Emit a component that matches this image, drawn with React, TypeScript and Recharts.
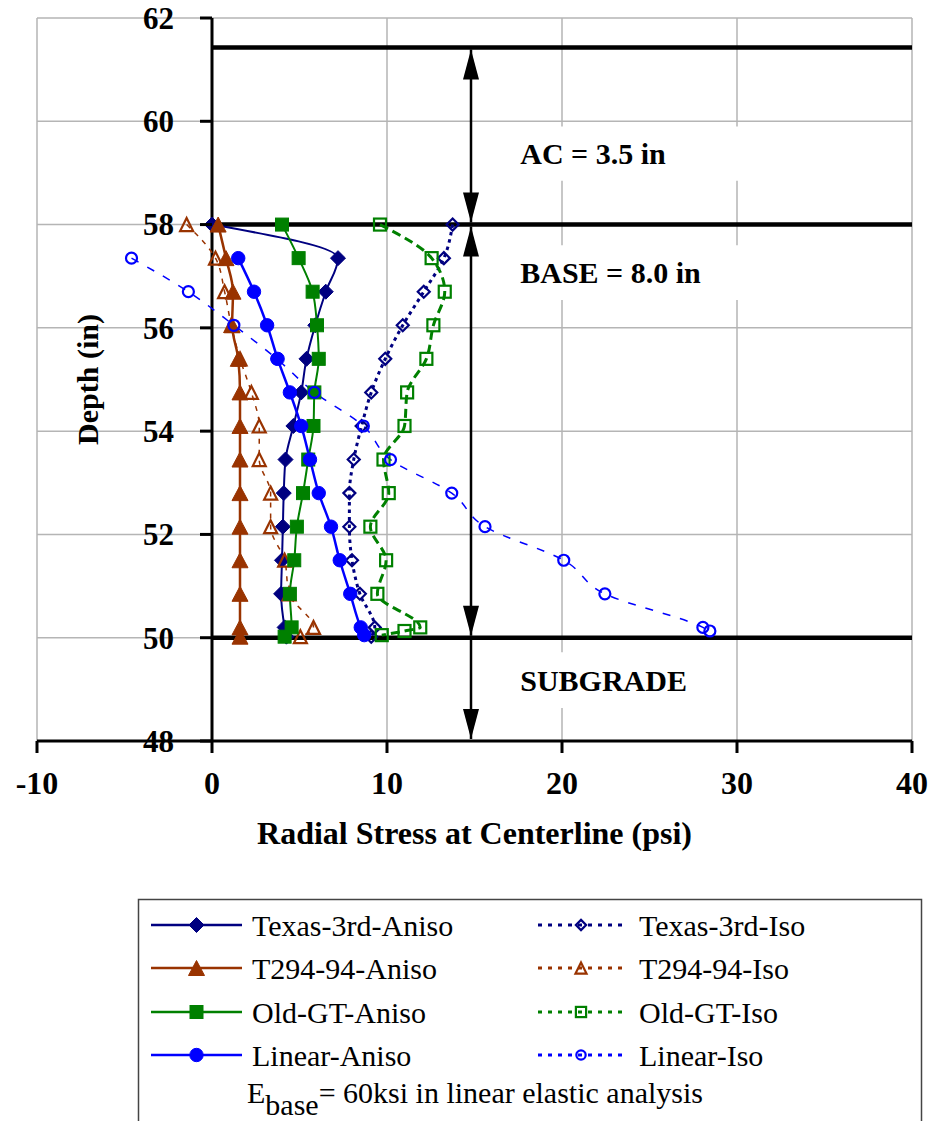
import React from 'react';
import { LineChart, Line, XAxis, YAxis, CartesianGrid, ReferenceLine, ReferenceArea } from 'recharts';

const WIDTH = 928;
const HEIGHT = 1121;
const PLOT = { left: 37, top: 18, right: 912, bottom: 741 };
const X_AXIS_H = 60;
const Y_AXIS_W = 1;
const X_DOMAIN: [number, number] = [-10, 40];
const Y_DOMAIN: [number, number] = [48, 62];
const xTicks = [-10, 0, 10, 20, 30, 40];
const yTicks = [48, 50, 52, 54, 56, 58, 60, 62];

const FONT = '"Liberation Serif", "Times New Roman", serif';
const NAVY = '#000080';
const BROWN = '#993300';
const GREEN = '#008000';
const BLUE = '#0000ff';

// depth levels (in)
const depthsFull = [58, 57.35, 56.7, 56.05, 55.4, 54.75, 54.1, 53.45, 52.8, 52.15, 51.5, 50.85, 50.2, 50.02];
const depthsLinearAniso = [57.35, 56.7, 56.05, 55.4, 54.75, 54.1, 53.45, 52.8, 52.15, 51.5, 50.85, 50.2, 50.05];
const depthsLinearIso = [57.35, 56.7, 56.05, 55.4, 54.75, 54.1, 53.45, 52.8, 52.15, 51.5, 50.85, 50.2, 50.13];
const depthsOldGtIso = [58, 57.35, 56.7, 56.05, 55.4, 54.75, 54.1, 53.45, 52.8, 52.15, 51.5, 50.85, 50.2, 50.13, 50.05];

// radial stress at centerline (psi)
const texasAniso = [0, 7.2, 6.5, 5.9, 5.4, 5.1, 4.65, 4.2, 4.1, 4.05, 4.0, 3.95, 4.15, 4.25];
const texasIso = [13.75, 13.25, 12.1, 10.9, 9.9, 9.1, 8.55, 8.1, 7.85, 7.85, 8.0, 8.45, 9.3, 9.1];
const t294Aniso = [0.35, 0.8, 1.2, 1.15, 1.5, 1.6, 1.6, 1.6, 1.6, 1.6, 1.6, 1.6, 1.6, 1.6];
const t294Iso = [-1.45, 0.2, 0.72, 1.1, 1.6, 2.25, 2.7, 2.7, 3.35, 3.35, 4.15, 4.4, 5.8, 5.05];
const oldGtAniso = [4.0, 4.95, 5.75, 6.0, 6.1, 5.85, 5.8, 5.5, 5.2, 4.85, 4.7, 4.45, 4.55, 4.15];
const oldGtIso = [9.6, 12.55, 13.3, 12.65, 12.25, 11.15, 11.0, 9.8, 10.1, 9.05, 9.95, 9.45, 11.9, 11.0, 9.7];
const linearAniso = [1.5, 2.4, 3.15, 3.75, 4.45, 5.1, 5.6, 6.1, 6.8, 7.3, 7.9, 8.5, 8.7];
const linearIso = [-4.6, -1.35, 1.25, 3.7, 5.85, 8.65, 10.2, 13.7, 15.6, 20.1, 22.45, 28.05, 28.45];

type Kind = 'diamond' | 'triangle' | 'square' | 'circle';

interface Series {
  name: string;
  color: string;
  depths: number[];
  values: number[];
  kind: Kind;
  filled: boolean;
  width: number;
  dash?: string;
  legendDash?: string;
}

// drawing order follows the legend, row by row
const series: Series[] = [
  { name: 'Texas-3rd-Aniso', color: NAVY, depths: depthsFull, values: texasAniso, kind: 'diamond', filled: true, width: 2 },
  { name: 'Texas-3rd-Iso', color: NAVY, depths: depthsFull, values: texasIso, kind: 'diamond', filled: false, width: 3, dash: '3.5 4', legendDash: '4 6' },
  { name: 'T294-94-Aniso', color: BROWN, depths: depthsFull, values: t294Aniso, kind: 'triangle', filled: true, width: 2.5 },
  { name: 'T294-94-Iso', color: BROWN, depths: depthsFull, values: t294Iso, kind: 'triangle', filled: false, width: 1.5, dash: '5 6', legendDash: '4 6' },
  { name: 'Old-GT-Aniso', color: GREEN, depths: depthsFull, values: oldGtAniso, kind: 'square', filled: true, width: 2 },
  { name: 'Old-GT-Iso', color: GREEN, depths: depthsOldGtIso, values: oldGtIso, kind: 'square', filled: false, width: 3, dash: '9 5', legendDash: '4 6' },
  { name: 'Linear-Aniso', color: BLUE, depths: depthsLinearAniso, values: linearAniso, kind: 'circle', filled: true, width: 2.5 },
  { name: 'Linear-Iso', color: BLUE, depths: depthsLinearIso, values: linearIso, kind: 'circle', filled: false, width: 1.5, dash: '8 10', legendDash: '4 6' },
];

const toPoints = (s: Series) => s.depths.map((d, i) => ({ d, v: s.values[i] }));

function MarkerShape({ cx, cy, kind, color, filled, scale = 1 }: any) {
  const fill = filled ? color : 'none';
  const sw = filled ? 1 : 2.2;
  const k = scale;
  if (kind === 'diamond') {
    const s = (filled ? 7.5 : 6) * k;
    return <path d={`M${cx},${cy - s}L${cx + s},${cy}L${cx},${cy + s}L${cx - s},${cy}Z`} fill={fill} stroke={color} strokeWidth={sw} />;
  }
  if (kind === 'triangle') {
    const w = (filled ? 8 : 6.5) * k;
    const h = (filled ? 7.5 : 6.5) * k;
    return <path d={`M${cx},${cy - h}L${cx + w},${cy + h}L${cx - w},${cy + h}Z`} fill={fill} stroke={color} strokeWidth={sw} strokeLinejoin="miter" />;
  }
  if (kind === 'square') {
    const s = (filled ? 6.5 : 6) * k;
    return <rect x={cx - s} y={cy - s} width={2 * s} height={2 * s} fill={fill} stroke={color} strokeWidth={sw} />;
  }
  const r = (filled ? 6.7 : 5.5) * k;
  return <circle cx={cx} cy={cy} r={r} fill={fill} stroke={color} strokeWidth={sw} />;
}

const ZERO_X = PLOT.left + ((0 - X_DOMAIN[0]) / (X_DOMAIN[1] - X_DOMAIN[0])) * (PLOT.right - PLOT.left);

function YTick({ y, payload }: any) {
  return (
    <g>
      <line x1={ZERO_X - 12} x2={ZERO_X} y1={y} y2={y} stroke="#000" strokeWidth={3} />
      <text x={ZERO_X - 38} y={y} dy="0.35em" textAnchor="end" fontFamily={FONT} fontWeight="bold" fontSize={31} fill="#000">
        {payload.value}
      </text>
    </g>
  );
}

function XTick({ x, payload }: any) {
  return (
    <text x={x} y={PLOT.bottom + 53} textAnchor="middle" fontFamily={FONT} fontWeight="bold" fontSize={32} fill="#000">
      {payload.value}
    </text>
  );
}

const arrowShape = (up: boolean, down: boolean) => (p: any) => {
  const x = p.x1;
  const top = Math.min(p.y1, p.y2) + 2;
  const bot = Math.max(p.y1, p.y2) - 2;
  const hw = 8;
  const hl = 30;
  return (
    <g>
      <line x1={x} x2={x} y1={top} y2={bot} stroke="#000" strokeWidth={2.5} />
      {up && <polygon points={`${x},${top} ${x - hw},${top + hl} ${x + hw},${top + hl}`} fill="#000" />}
      {down && <polygon points={`${x},${bot} ${x - hw},${bot - hl} ${x + hw},${bot - hl}`} fill="#000" />}
    </g>
  );
};

const boxLabel = (text: string) => (p: any) => {
  const vb = p.viewBox;
  return (
    <text x={vb.x + 16} y={vb.y + vb.height / 2} dy="0.35em" fontFamily={FONT} fontWeight="bold" fontSize={30} fill="#000">
      {text}
    </text>
  );
};

const LAYER_TOP = 61.43;
const LAYER_BASE_TOP = 58;
const LAYER_SUBGRADE_TOP = 50;
const ARROW_X = 14.8;

const legendRows = [925, 968, 1012, 1055];

function LegendItem({ s, x0, x1, xText, y }: any) {
  const mid = (x0 + x1) / 2;
  return (
    <g>
      <line x1={x0} x2={x1} y1={y} y2={y} stroke={s.color} strokeWidth={s.dash ? 3 : 2.5} strokeDasharray={s.legendDash} />
      <MarkerShape cx={mid} cy={y} kind={s.kind} color={s.color} filled={s.filled} scale={s.filled ? 1 : 0.85} />
      <text x={xText} y={y} dy="0.35em" fontFamily={FONT} fontSize={30} fill="#000">
        {s.name}
      </text>
    </g>
  );
}

export default function App() {
  const aniso = series.filter((s) => s.filled);
  const iso = series.filter((s) => !s.filled);
  return (
    <div style={{ position: 'absolute', left: 0, top: 0, width: WIDTH, height: HEIGHT, background: '#fff', overflow: 'hidden' }}>
      <LineChart
        width={WIDTH}
        height={HEIGHT}
        layout="vertical"
        margin={{ top: PLOT.top, left: PLOT.left - Y_AXIS_W, right: WIDTH - PLOT.right, bottom: HEIGHT - PLOT.bottom - X_AXIS_H }}
      >
        <CartesianGrid stroke="#b5b5b5" strokeWidth={1.5} />
        <XAxis
          type="number"
          domain={X_DOMAIN}
          ticks={xTicks}
          interval={0}
          allowDataOverflow
          height={X_AXIS_H}
          tickSize={12}
          axisLine={{ stroke: '#000', strokeWidth: 3 }}
          tickLine={{ stroke: '#000', strokeWidth: 3 }}
          tick={<XTick />}
        />
        <YAxis
          type="number"
          dataKey="d"
          domain={Y_DOMAIN}
          ticks={yTicks}
          interval={0}
          allowDataOverflow
          reversed
          width={Y_AXIS_W}
          axisLine={false}
          tickLine={false}
          tick={<YTick />}
        />
        <ReferenceArea x1={16.7} x2={30.5} y1={58.85} y2={59.9} fill="#fff" fillOpacity={1} stroke="none" label={boxLabel('AC = 3.5 in')} />
        <ReferenceArea x1={16.7} x2={30.5} y1={56.54} y2={57.6} fill="#fff" fillOpacity={1} stroke="none" label={boxLabel('BASE = 8.0 in')} />
        <ReferenceArea x1={16.7} x2={28} y1={48.64} y2={49.72} fill="#fff" fillOpacity={1} stroke="none" label={boxLabel('SUBGRADE')} />
        <ReferenceLine x={0} stroke="#000" strokeWidth={3} />
        <ReferenceLine segment={[{ x: 0, y: LAYER_TOP }, { x: 40, y: LAYER_TOP }]} stroke="#000" strokeWidth={4.5} />
        <ReferenceLine segment={[{ x: 0, y: LAYER_BASE_TOP }, { x: 40, y: LAYER_BASE_TOP }]} stroke="#000" strokeWidth={4.5} />
        <ReferenceLine segment={[{ x: 0, y: LAYER_SUBGRADE_TOP }, { x: 40, y: LAYER_SUBGRADE_TOP }]} stroke="#000" strokeWidth={4.5} />
        <ReferenceLine segment={[{ x: ARROW_X, y: LAYER_TOP }, { x: ARROW_X, y: LAYER_BASE_TOP }]} shape={arrowShape(true, true)} />
        <ReferenceLine segment={[{ x: ARROW_X, y: LAYER_BASE_TOP }, { x: ARROW_X, y: LAYER_SUBGRADE_TOP }]} shape={arrowShape(true, true)} />
        <ReferenceLine segment={[{ x: ARROW_X, y: LAYER_SUBGRADE_TOP }, { x: ARROW_X, y: Y_DOMAIN[0] }]} shape={arrowShape(false, true)} />
        {series.map((s) => (
          <Line
            key={s.name}
            name={s.name}
            data={toPoints(s)}
            dataKey="v"
            type="monotone"
            stroke={s.color}
            strokeWidth={s.width}
            strokeDasharray={s.dash}
            isAnimationActive={false}
            dot={(p: any) =>
              p.cx == null ? <g key={`${s.name}-${p.index}`} /> : (
                <MarkerShape key={`${s.name}-${p.index}`} cx={p.cx} cy={p.cy} kind={s.kind} color={s.color} filled={s.filled} />
              )
            }
            activeDot={false}
          />
        ))}
      </LineChart>
      <svg width={WIDTH} height={HEIGHT} style={{ position: 'absolute', left: 0, top: 0, pointerEvents: 'none' }}>
        <text x={(PLOT.left + PLOT.right) / 2} y={844} textAnchor="middle" fontFamily={FONT} fontWeight="bold" fontSize={32} fill="#000">
          Radial Stress at Centerline (psi)
        </text>
        <text transform={`translate(98, ${(PLOT.top + PLOT.bottom) / 2}) rotate(-90)`} textAnchor="middle" fontFamily={FONT} fontWeight="bold" fontSize={30} fill="#000">
          Depth (in)
        </text>
        <rect x={138.5} y={899.5} width={783} height={240} fill="#fff" stroke="#444" strokeWidth={1.5} />
        {aniso.map((s, i) => (
          <LegendItem key={s.name} s={s} x0={151} x1={242} xText={252} y={legendRows[i]} />
        ))}
        {iso.map((s, i) => (
          <LegendItem key={s.name} s={s} x0={538} x1={624} xText={639} y={legendRows[i]} />
        ))}
        <text x={247} y={1103} fontFamily={FONT} fontSize={30} fill="#000">
          E<tspan dy={12}>base</tspan>
          <tspan dy={-12}>= 60ksi in linear elastic analysis</tspan>
        </text>
      </svg>
    </div>
  );
}
